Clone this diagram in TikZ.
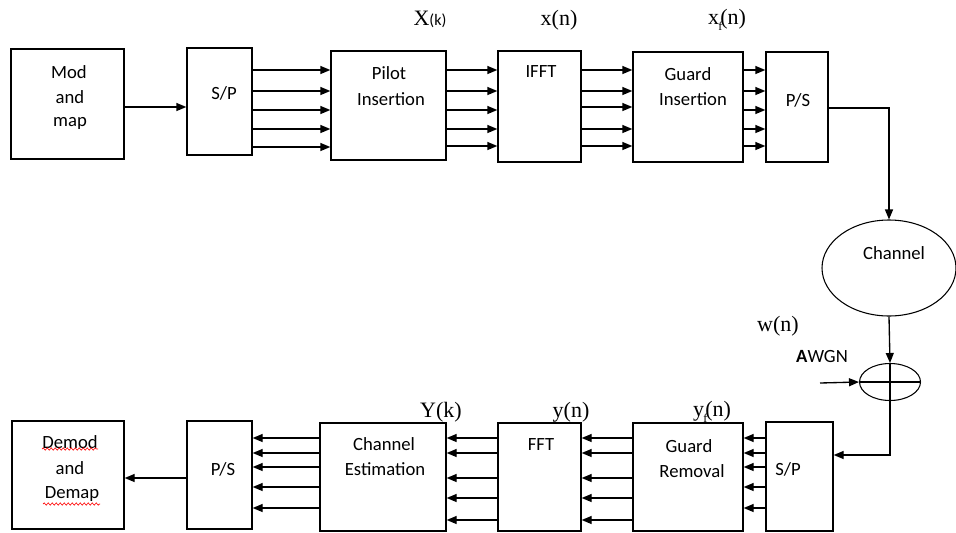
\documentclass[tikz,border=0pt]{standalone}
\usepackage{fontspec}
\setmainfont{Liberation Serif}
\setsansfont{Carlito}
\usetikzlibrary{arrows.meta,shapes.geometric,decorations.pathmorphing}
\tikzset{
 blk/.style={draw, line width=1pt, inner sep=0pt},
 txt/.style={font=\sffamily\fontsize{14}{16}\selectfont, inner sep=0pt},
 lbl/.style={font=\fontsize{16.5}{18}\selectfont, inner sep=0pt},
 conn/.style={line width=1pt, -{Triangle[length=7.5pt,width=6pt]}},
 wire/.style={line width=0.8pt},
 squig/.style={red, line width=0.5pt, decorate, decoration={snake, segment length=3pt, amplitude=0.8pt}}
}
\newcommand{\subf}{\kern-0.5pt\raisebox{-0.25em}{\fontsize{9}{9}\selectfont f}\kern-1.5pt}
\begin{document}
\begin{tikzpicture}[x=0.75pt,y=-0.75pt]
\useasboundingbox (0,0) rectangle (956,532);
% top row boxes
\node[blk, minimum width=84.75pt, minimum height=82.5pt] (mod) at (67.5,104) {};
\node[blk, minimum width=48.75pt, minimum height=80.25pt] (sp1) at (219.5,101.5) {};
\node[blk, minimum width=86.25pt, minimum height=81.75pt] (pilot) at (388.5,105.5) {};
\node[blk, minimum width=62.25pt, minimum height=83.25pt] (ifft) at (539.5,106.5) {};
\node[blk, minimum width=82.5pt, minimum height=82.5pt] (gins) at (688,107) {};
\node[blk, minimum width=46.5pt, minimum height=82.5pt] (ps1) at (797,107) {};
% bottom row boxes
\node[blk, minimum width=84pt, minimum height=81pt] (demod) at (68,475) {};
\node[blk, minimum width=48.75pt, minimum height=81pt] (ps2) at (219.5,475) {};
\node[blk, minimum width=94.5pt, minimum height=81pt] (chest) at (383,477) {};
\node[blk, minimum width=62.25pt, minimum height=81pt] (fft) at (539.5,477) {};
\node[blk, minimum width=82.5pt, minimum height=81pt] (grem) at (688,477) {};
\node[blk, minimum width=50.25pt, minimum height=81.75pt] (sp2) at (799.5,476.5) {};
% channel and adder
\node[draw, ellipse, line width=0.8pt, minimum width=100.5pt, minimum height=72pt, inner sep=0pt] (chan) at (889,268) {};
\node[draw, ellipse, line width=0.8pt, minimum width=45.75pt, minimum height=27.75pt, inner sep=0pt] (add) at (890,382) {};
\draw[wire] (add.west) -- (add.east);
\draw[wire] (add.north) -- (add.south);
% box texts
\node[txt] (tmod1) at (69,72) {Mod};
\node[txt] (tmod2) at (70,97) {and};
\node[txt] (tmod3) at (70,123) {map};
\node[txt] (tsp1) at (224,93) {S/P};
\node[txt] (tpil1) at (389,73) {Pilot};
\node[txt] (tpil2) at (391,99) {Insertion};
\node[txt] (tifft) at (541,72) {IFFT};
\node[txt] (tgi1) at (688,74) {Guard};
\node[txt] (tgi2) at (693,99) {Insertion};
\node[txt] (tps1) at (798,100) {P/S};
\node[txt] (tchan) at (894,253) {Channel};
\node[txt] (tdm1) at (70,442) {Demod};
\node[txt] (tdm2) at (70,468) {and};
\node[txt] (tdm3) at (72,494) {Demap};
\node[txt] (tps2) at (223,469) {P/S};
\node[txt] (tce1) at (384,444) {Channel};
\node[txt] (tce2) at (385,469) {Estimation};
\node[txt] (tfft) at (541,445) {FFT};
\node[txt] (tgr1) at (689,446) {Guard};
\node[txt] (tgr2) at (692,471) {Removal};
\node[txt] (tsp2) at (788,469) {S/P};
\node[txt] (tawgn) at (822,357) {{\bfseries A}WGN};
% spell-check squiggles
\draw[squig] (42,449) -- (98,449);
\draw[squig] (43,504) -- (100,504);
% signal labels
\node[lbl] (lX) at (430,19) {X{\sffamily\fontsize{12}{12}\selectfont(k)}};
\node[lbl] (lx) at (559,20) {x(n)};
\node[lbl] (lxf) at (727,20) {x\subf(n)};
\node[lbl] (lY) at (441,412) {Y(k)};
\node[lbl] (ly) at (571,412) {y(n)};
\node[lbl] (lyf) at (712,412) {y\subf(n)};
\node[lbl] (lw) at (778,326) {w(n)};
% top connectors
\draw[conn] (mod.east |- 0,107) -- (sp1.west |- 0,107);
\foreach \y in {70,91,110,129,147} \draw[conn] (sp1.east |- 0,\y) -- (pilot.west |- 0,\y);
\foreach \y in {70,91,110,129,146} \draw[conn] (pilot.east |- 0,\y) -- (ifft.west |- 0,\y);
\foreach \y in {70,91,107,129,146} \draw[conn] (ifft.east |- 0,\y) -- (gins.west |- 0,\y);
\foreach \y in {70,91,110,129,146} \draw[conn] (gins.east |- 0,\y) -- (ps1.west |- 0,\y);
\draw[conn] (ps1.east |- 0,108) -| (chan.north);
\draw[conn] (chan.south) -- (add.north);
\coordinate (awgnin) at (820,383);
\draw[conn] (awgnin) -- (add.west);
\draw[conn] (add.south) |- (sp2.east |- 0,455);
% bottom connectors
\foreach \y in {438,453,467,487,508} \draw[conn] (sp2.west |- 0,\y) -- (grem.east |- 0,\y);
\foreach \y in {438,453,478,498,520} \draw[conn] (grem.west |- 0,\y) -- (fft.east |- 0,\y);
\foreach \y in {438,453,478,498,520} \draw[conn] (fft.west |- 0,\y) -- (chest.east |- 0,\y);
\foreach \y in {438,453,467,487,508} \draw[conn] (chest.west |- 0,\y) -- (ps2.east |- 0,\y);
\draw[conn] (ps2.west |- 0,478) -- (demod.east |- 0,478);
\end{tikzpicture}
\end{document}
